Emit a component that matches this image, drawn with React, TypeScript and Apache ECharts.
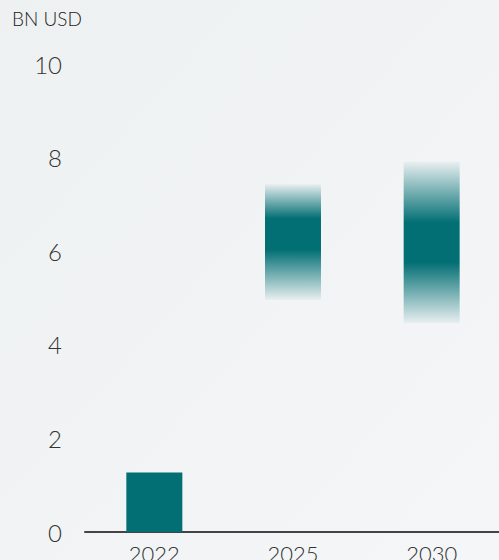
import React, { useEffect, useRef } from "react";
import * as echarts from "echarts";

const years = ["2022", "2025", "2030"];
const rangeLow = [0, 4.96, 4.46];
const rangeHigh = [1.27, 7.43, 7.91];
const solidLow = [0, 6.03, 5.76];
const solidHigh = [1.27, 6.7, 6.61];
const yTicks = [0, 2, 4, 6, 8, 10];

const TEAL = "#026f74";
const TEAL0 = "rgba(2,111,116,0.04)";

export default function App() {
  const ref = useRef<HTMLDivElement>(null);
  useEffect(() => {
    if (!ref.current) return;
    const chart = echarts.init(ref.current, undefined, { renderer: "svg" });
    const rangeData = years.map((_, i) => {
      const lo = rangeLow[i];
      const hi = rangeHigh[i];
      const span = hi - lo;
      const solid = solidLow[i] === lo && solidHigh[i] === hi;
      const color = solid
        ? TEAL
        : new echarts.graphic.LinearGradient(0, 0, 0, 1, [
            { offset: 0, color: TEAL0 },
            { offset: (hi - solidHigh[i]) / span, color: TEAL },
            { offset: (hi - solidLow[i]) / span, color: TEAL },
            { offset: 1, color: TEAL0 },
          ]);
      return { value: +span.toFixed(3), itemStyle: { color } };
    });
    chart.setOption({
      animation: false,
      backgroundColor: new echarts.graphic.LinearGradient(0, 0, 1, 1, [
        { offset: 0, color: "#eef1f2" },
        { offset: 1, color: "#f4f6f7" },
      ]),
      textStyle: { fontFamily: "Lato" },
      graphic: [
        {
          type: "text",
          left: 12,
          top: 9,
          style: {
            text: "BN USD",
            fontSize: 19,
            fontWeight: 300,
            fontFamily: "Lato",
            fill: "#222",
          },
        },
      ],
      grid: {
        left: 85,
        right: -2,
        top: 64,
        bottom: 28,
        containLabel: false,
        outerBoundsMode: "none",
      },
      xAxis: {
        type: "category",
        data: years,
        axisLine: { lineStyle: { color: "#444", width: 2 } },
        axisTick: { show: false },
        axisLabel: {
          margin: 10,
          fontSize: 22,
          fontWeight: 300,
          color: "#333",
          fontFamily: "Lato",
        },
      },
      yAxis: {
        type: "value",
        min: yTicks[0],
        max: yTicks[yTicks.length - 1],
        interval: 2,
        axisLine: { show: false },
        axisTick: { show: false },
        splitLine: { show: false },
        axisLabel: {
          margin: 23,
          fontSize: 24,
          fontWeight: 300,
          color: "#333",
          fontFamily: "Lato",
        },
      },
      series: [
        {
          type: "bar",
          stack: "r",
          barWidth: 56,
          data: rangeLow,
          itemStyle: { color: "rgba(0,0,0,0)" },
          silent: true,
        },
        {
          type: "bar",
          stack: "r",
          barWidth: 56,
          data: rangeData,
        },
      ],
    });
    return () => chart.dispose();
  }, []);
  return (
    <div
      ref={ref}
      style={{ position: "fixed", left: 0, top: 0, width: 499, height: 560 }}
    />
  );
}
